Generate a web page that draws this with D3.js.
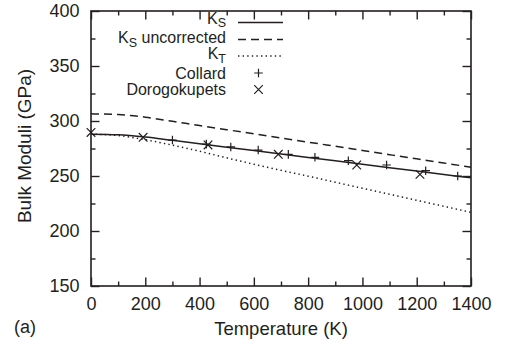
<!DOCTYPE html>
<html>
<head>
<meta charset="utf-8">
<script src="https://cdn.jsdelivr.net/npm/d3@7"></script>
<style>
  html, body { margin: 0; padding: 0; background: #fff; }
  svg { display: block; }
  text { font-family: "Liberation Sans", Arial, Helvetica, sans-serif; fill: #231f20; }
</style>
</head>
<body>
<svg id="chart" width="507" height="342"></svg>
<script>
// ---- data ----
const curveTemps = [0, 100, 200, 300, 400, 500, 600, 700, 800, 900, 1000, 1100, 1200, 1300, 1400];
const ksValues   = [288, 287.5, 285.5, 282.4, 279.3, 276.2, 273.1, 270, 266.9, 263.8, 260.7, 257.6, 254.5, 251.4, 248.3];
const ksUncorr   = [306.5, 305.8, 303.5, 299.7, 295.9, 292.1, 288.3, 284.5, 280.8, 277, 273.2, 269.4, 265.6, 261.8, 258];
const ktValues   = [288, 286.8, 283, 278, 272.5, 266.5, 260.7, 255.2, 249.8, 244.3, 238.8, 233.4, 227.9, 222.5, 217];
const collardT   = [300, 425, 515, 616, 727, 825, 948, 1089, 1233, 1351];
const collardK   = [282.7, 279, 276.4, 273.6, 269.7, 267, 263.9, 260, 254.8, 250];
const doroT      = [0, 192, 431, 690, 979, 1212];
const doroK      = [289.6, 285.2, 278.2, 269.7, 260, 251.5];
const xTicks     = [0, 200, 400, 600, 800, 1000, 1200, 1400];
const xMinor     = [100, 300, 500, 700, 900, 1100, 1300];
const yTicks     = [150, 200, 250, 300, 350, 400];
const yMinor     = [175, 225, 275, 325, 375];
const legendLabels = [["K", "S", ""], ["K", "S", " uncorrected"], ["K", "T", ""], ["Collard", "", ""], ["Dorogokupets", "", ""]];

// ---- layout ----
const svg = d3.select("#chart");
const L = 91, R = 471, T = 11, B = 286;
const x = d3.scaleLinear().domain([0, 1400]).range([L, R]);
const y = d3.scaleLinear().domain([150, 400]).range([B, T]);
const ink = "#231f20";

svg.append("rect").attr("width", 507).attr("height", 342).attr("fill", "#fff");

// curves
const line = d3.line().x(d => x(d[0])).y(d => y(d[1])).curve(d3.curveMonotoneX);
const series = [
  { vals: ksValues, dash: null },
  { vals: ksUncorr, dash: "8,5" },
  { vals: ktValues, dash: "1.4,3.2" }
];
series.forEach(s => {
  svg.append("path")
    .datum(curveTemps.map((t, i) => [t, s.vals[i]]))
    .attr("d", line)
    .attr("fill", "none")
    .attr("stroke", ink)
    .attr("stroke-width", 1.5)
    .attr("stroke-dasharray", s.dash);
});

// markers
const ms = 4.3;
function plus(g, cx, cy) {
  g.append("path").attr("d", `M${cx - ms},${cy}H${cx + ms}M${cx},${cy - ms}V${cy + ms}`)
    .attr("stroke", ink).attr("stroke-width", 1.2).attr("fill", "none");
}
function cross(g, cx, cy) {
  g.append("path").attr("d", `M${cx - ms},${cy - ms}L${cx + ms},${cy + ms}M${cx - ms},${cy + ms}L${cx + ms},${cy - ms}`)
    .attr("stroke", ink).attr("stroke-width", 1.2).attr("fill", "none");
}
const mk = svg.append("g");
collardT.forEach((t, i) => plus(mk, x(t), y(collardK[i])));
doroT.forEach((t, i) => cross(mk, x(t), y(doroK[i])));

// axes
function styleAxis(g) {
  g.select(".domain").remove();
  g.selectAll("line").attr("stroke", ink).attr("stroke-width", 1.4);
  g.selectAll("text").attr("font-size", 18).style("fill", ink)
    .attr("font-family", '"Liberation Sans", Arial, sans-serif');
}
const fmt = d3.format("d");
svg.append("g").attr("transform", `translate(0,${B})`)
  .call(d3.axisBottom(x).tickValues(xTicks).tickSize(-8.5).tickPadding(11).tickFormat(fmt)).call(styleAxis);
svg.append("g").attr("transform", `translate(0,${B})`)
  .call(d3.axisBottom(x).tickValues(xMinor).tickSize(-4.5).tickFormat("")).call(styleAxis);
svg.append("g").attr("transform", `translate(0,${T})`)
  .call(d3.axisTop(x).tickValues(xTicks).tickSize(-8.5).tickFormat("")).call(styleAxis);
svg.append("g").attr("transform", `translate(0,${T})`)
  .call(d3.axisTop(x).tickValues(xMinor).tickSize(-4.5).tickFormat("")).call(styleAxis);
svg.append("g").attr("transform", `translate(${L},0)`)
  .call(d3.axisLeft(y).tickValues(yTicks).tickSize(-8.5).tickPadding(11.5).tickFormat(fmt)).call(styleAxis);
svg.append("g").attr("transform", `translate(${L},0)`)
  .call(d3.axisLeft(y).tickValues(yMinor).tickSize(-4.5).tickFormat("")).call(styleAxis);
svg.append("g").attr("transform", `translate(${R},0)`)
  .call(d3.axisRight(y).tickValues(yTicks).tickSize(-8.5).tickFormat("")).call(styleAxis);
svg.append("g").attr("transform", `translate(${R},0)`)
  .call(d3.axisRight(y).tickValues(yMinor).tickSize(-4.5).tickFormat("")).call(styleAxis);

// frame
svg.append("rect").attr("x", L).attr("y", T).attr("width", R - L).attr("height", B - T)
  .attr("fill", "none").attr("stroke", ink).attr("stroke-width", 1.6);

// axis titles
svg.append("text").attr("x", (L + R) / 2).attr("y", 334.5).attr("text-anchor", "middle")
  .attr("font-size", 18.5).text("Temperature (K)");
svg.append("text").attr("transform", `translate(31,146) rotate(-90)`)
  .attr("text-anchor", "middle").attr("font-size", 19).text("Bulk Moduli (GPa)");
svg.append("text").attr("x", 14).attr("y", 333).attr("font-size", 18).text("(a)");

// legend
const rowY = [22.5, 39.5, 56, 73, 89.5];
const textShift = [-4.5, -2, -2.5, 0, 0];
const lg = svg.append("g");
legendLabels.forEach((lab, i) => {
  const ty = rowY[i] + 5.5 + textShift[i];
  const t = lg.append("text").attr("x", 226).attr("y", ty)
    .attr("text-anchor", "end").attr("font-size", 16);
  t.append("tspan").text(lab[0]);
  if (lab[1]) {
    t.append("tspan").attr("dy", 3.5).attr("font-size", 12.5).text(lab[1]);
    if (lab[2]) t.append("tspan").attr("dy", -3.5).text(lab[2]);
  }
});
const sx0 = 238, sx1 = 283;
[null, "8,5", "1.4,3.2"].forEach((dash, i) => {
  lg.append("line").attr("x1", sx0).attr("x2", sx1).attr("y1", rowY[i]).attr("y2", rowY[i])
    .attr("stroke", ink).attr("stroke-width", 1.5).attr("stroke-dasharray", dash);
});
plus(lg, (sx0 + sx1) / 2 - 2, rowY[3]);
cross(lg, (sx0 + sx1) / 2 - 2, rowY[4]);
</script>
</body>
</html>
